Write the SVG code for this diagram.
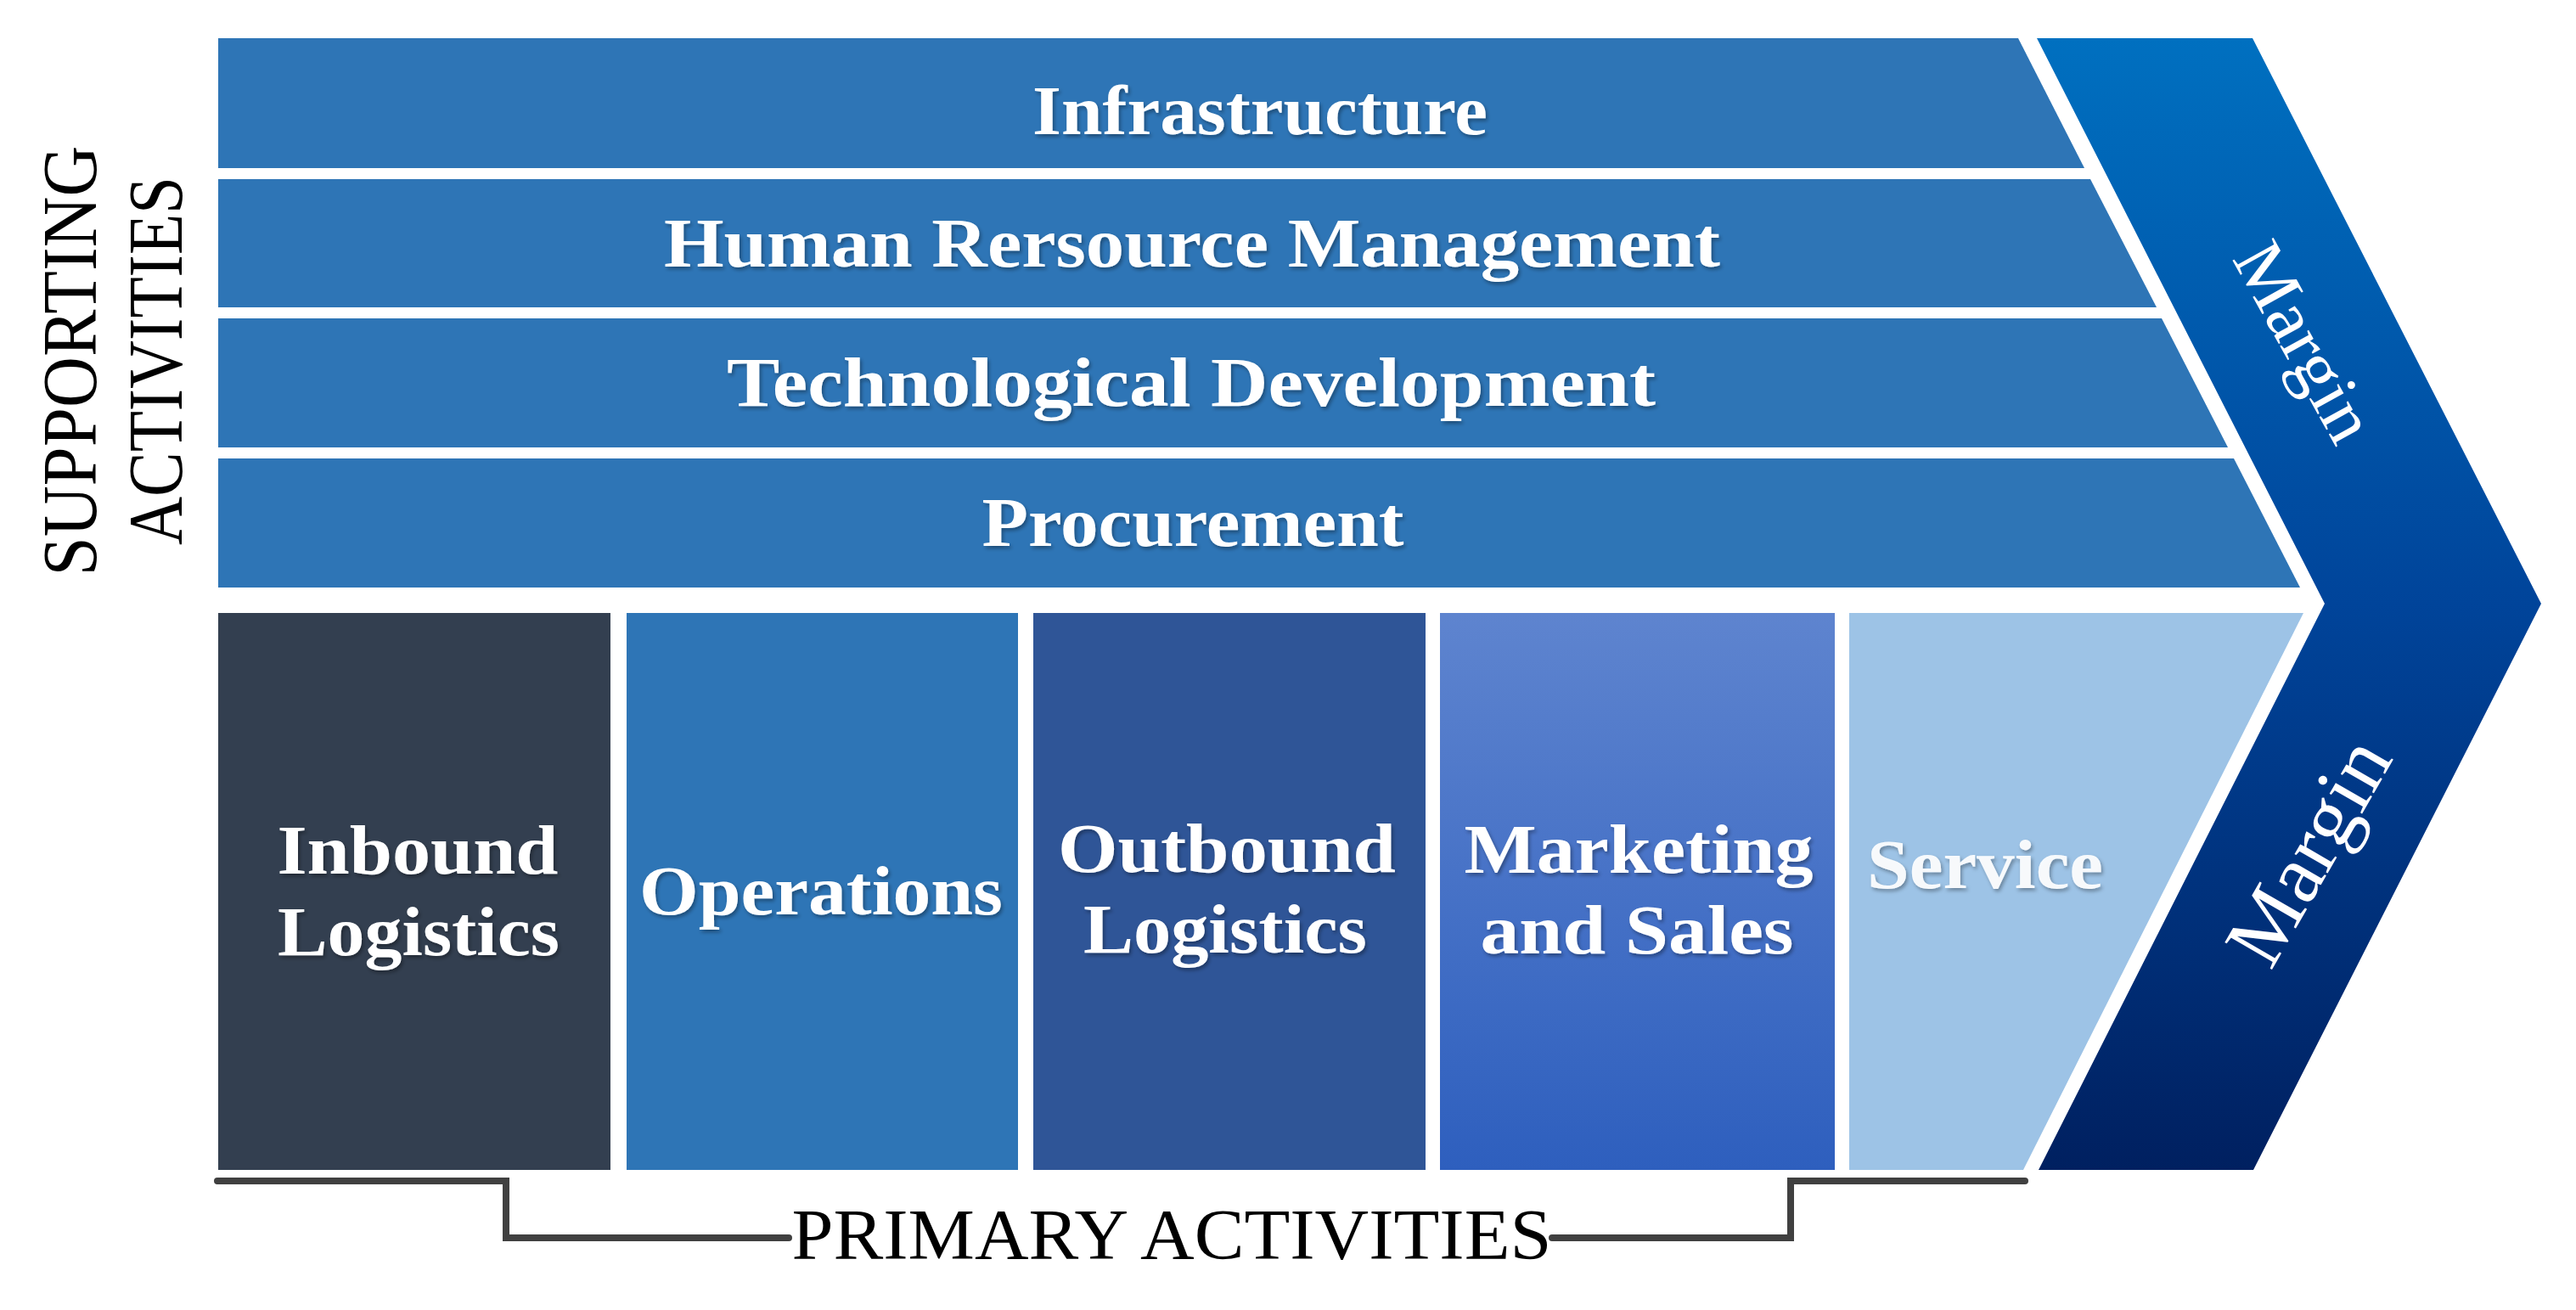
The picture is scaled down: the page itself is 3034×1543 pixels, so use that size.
<svg xmlns="http://www.w3.org/2000/svg" width="3034" height="1543" viewBox="0 0 3034 1543">
  <defs>
    <linearGradient id="gMargin" x1="0" y1="0" x2="0" y2="1">
      <stop offset="0" stop-color="#0070C0"/>
      <stop offset="0.5" stop-color="#00449A"/>
      <stop offset="1" stop-color="#002060"/>
    </linearGradient>
    <linearGradient id="gMkt" x1="0" y1="0" x2="0" y2="1">
      <stop offset="0" stop-color="#5E84CF"/>
      <stop offset="1" stop-color="#2E5FBE"/>
    </linearGradient>
    <filter id="sh" x="-5%" y="-20%" width="110%" height="140%">
      <feDropShadow dx="2" dy="3" stdDeviation="2" flood-color="#000000" flood-opacity="0.35"/>
    </filter>
    <style>
      .lbl { font-family: "Liberation Serif", "Times New Roman", serif; font-weight: bold; font-size: 82px; fill: #FFFFFF; text-anchor: middle; filter: url(#sh); }
      .side { font-family: "Liberation Serif", "Times New Roman", serif; font-size: 92px; fill: #000000; text-anchor: middle; }
      .margin { font-family: "Liberation Serif", "Times New Roman", serif; fill: #FFFFFF; text-anchor: middle; }
      .bar { fill: #2E75B6; }
      .conn { fill: none; stroke: #404040; stroke-width: 8; stroke-linecap: round; stroke-linejoin: miter; }
    </style>
  </defs>
  <rect width="3034" height="1543" fill="#FFFFFF"/>

  <!-- Margin chevron -->
  <g id="margin">
    <polygon points="2399,45 2653,45 2993,711 2654,1378 2401,1378 2738,711" fill="url(#gMargin)"/>
    <text class="margin" font-size="84" textLength="255" lengthAdjust="spacingAndGlyphs" transform="translate(2690,416) rotate(61)">Margin</text>
    <text class="margin" font-size="98" textLength="290" lengthAdjust="spacingAndGlyphs" transform="translate(2747,1019) rotate(-60)">Margin</text>
  </g>

  <!-- Supporting activities -->
  <g id="infrastructure">
    <polygon class="bar" points="257,45 2377,45 2455,198 257,198"/>
    <text class="lbl" x="1484" y="158" textLength="536" lengthAdjust="spacingAndGlyphs">Infrastructure</text>
  </g>
  <g id="hrm">
    <polygon class="bar" points="257,211 2462,211 2540,362 257,362"/>
    <text class="lbl" x="1404" y="314" textLength="1244" lengthAdjust="spacingAndGlyphs">Human Rersource Management</text>
  </g>
  <g id="techdev">
    <polygon class="bar" points="257,375 2546,375 2624,527 257,527"/>
    <text class="lbl" x="1403" y="478" textLength="1094" lengthAdjust="spacingAndGlyphs">Technological  Development</text>
  </g>
  <g id="procurement">
    <polygon class="bar" points="257,540 2631,540 2709,692 257,692"/>
    <text class="lbl" x="1405" y="643" textLength="497" lengthAdjust="spacingAndGlyphs">Procurement</text>
  </g>

  <!-- Primary activities -->
  <g id="inbound">
    <rect x="257" y="722" width="462" height="656" fill="#333F50"/>
    <text class="lbl" x="492" y="1029" textLength="331" lengthAdjust="spacingAndGlyphs">Inbound</text>
    <text class="lbl" x="493" y="1125" textLength="332" lengthAdjust="spacingAndGlyphs">Logistics</text>
  </g>
  <g id="operations">
    <rect x="738" y="722" width="461" height="656" fill="#2E75B6"/>
    <text class="lbl" x="967" y="1077" textLength="428" lengthAdjust="spacingAndGlyphs">Operations</text>
  </g>
  <g id="outbound">
    <rect x="1217" y="722" width="462" height="656" fill="#2F5597"/>
    <text class="lbl" x="1445" y="1027" textLength="398" lengthAdjust="spacingAndGlyphs">Outbound</text>
    <text class="lbl" x="1443" y="1122" textLength="334" lengthAdjust="spacingAndGlyphs">Logistics</text>
  </g>
  <g id="marketing">
    <rect x="1696" y="722" width="465" height="656" fill="url(#gMkt)"/>
    <text class="lbl" x="1930" y="1028" textLength="411" lengthAdjust="spacingAndGlyphs">Marketing</text>
    <text class="lbl" x="1928" y="1123" textLength="369" lengthAdjust="spacingAndGlyphs">and Sales</text>
  </g>
  <g id="service">
    <polygon points="2178,722 2713,722 2383,1378 2178,1378" fill="#9DC3E6"/>
    <text class="lbl" x="2199" y="1046" style="text-anchor:start" fill-opacity="0.92" textLength="278" lengthAdjust="spacingAndGlyphs">Service</text>
  </g>

  <!-- Side labels -->
  <g id="supporting-label">
    <text class="side" transform="translate(113,425) rotate(-90)" textLength="507" lengthAdjust="spacingAndGlyphs">SUPPORTING</text>
    <text class="side" transform="translate(214,425) rotate(-90)" textLength="434" lengthAdjust="spacingAndGlyphs">ACTIVITIES</text>
  </g>

  <!-- Connectors (bracket) -->
  <g id="connectors">
    <path class="conn" d="M256,1391 H596 V1458 H929"/>
    <path class="conn" d="M1828,1458 H2109 V1391 H2385"/>
  </g>
  <g id="primary-label">
    <text class="side" x="1380" y="1483" font-size="84" style="font-size:84px" textLength="895" lengthAdjust="spacingAndGlyphs">PRIMARY ACTIVITIES</text>
  </g>
</svg>
